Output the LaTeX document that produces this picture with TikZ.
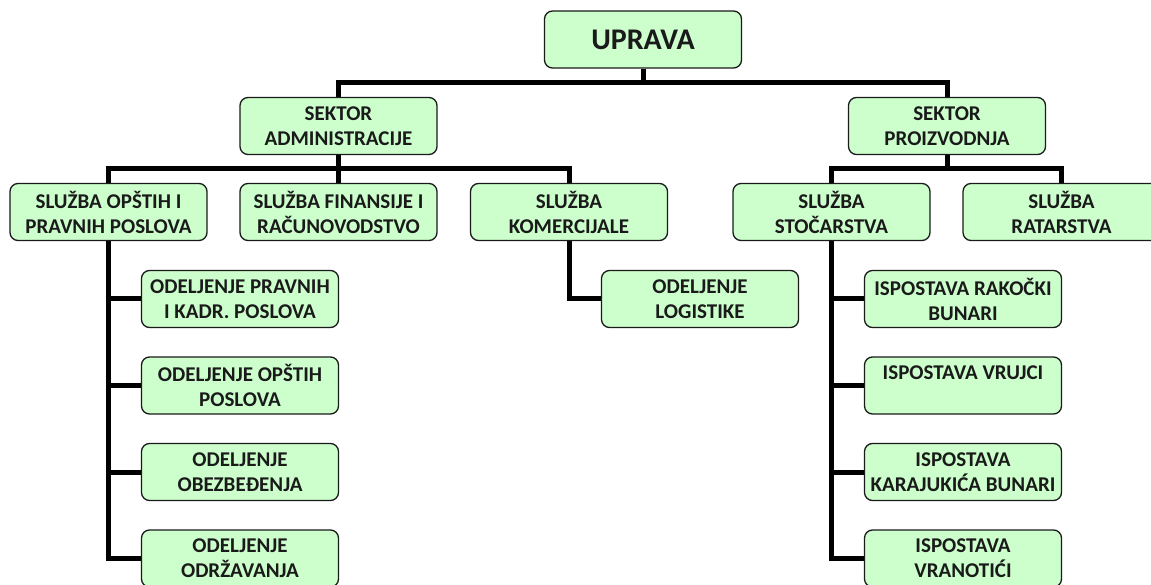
\documentclass[tikz,border=0pt]{standalone}
\usepackage{fontspec}
\setmainfont{Carlito}[BoldFont={Carlito Bold}]
\usetikzlibrary{backgrounds}
\definecolor{boxfill}{HTML}{CCFFCC}
\definecolor{boxline}{HTML}{1A1A1A}
\tikzset{
  orgbox/.style={draw=boxline, line width=1.3pt, fill=boxfill, rounded corners=8pt,
    minimum width=197pt, minimum height=57pt, inner sep=0pt, align=center,
    font=\fontsize{21}{25}\selectfont\bfseries, text=boxline},
  topbox/.style={orgbox, font=\fontsize{30}{34}\selectfont\bfseries},
  conn/.style={draw=black, line width=5pt, line join=miter}
}
\begin{document}
\begin{tikzpicture}[x=1pt,y=-1pt]
\useasboundingbox (0,0) rectangle (1151,585);
\node[topbox] (U) at (643,39.5) {UPRAVA};
\node[orgbox] (SA) at (338.5,126) {SEKTOR\\ADMINISTRACIJE};
\node[orgbox] (SP) at (947,126) {SEKTOR\\PROIZVODNJA};
\node[orgbox] (SO) at (108.5,212) {SLUŽBA OPŠTIH I\\PRAVNIH POSLOVA};
\node[orgbox] (SF) at (338.5,212) {SLUŽBA FINANSIJE I\\RAČUNOVODSTVO};
\node[orgbox] (SK) at (569,212) {SLUŽBA\\KOMERCIJALE};
\node[orgbox] (SS) at (831.5,212) {SLUŽBA\\STOČARSTVA};
\node[orgbox] (SR) at (1061.5,212) {SLUŽBA\\RATARSTVA};
\node[orgbox] (O1) at (240,299) {ODELJENJE PRAVNIH\\I KADR. POSLOVA};
\node[orgbox] (O2) at (240,385.5) {ODELJENJE OPŠTIH\\POSLOVA};
\node[orgbox] (O3) at (240,472) {ODELJENJE\\OBEZBEĐENJA};
\node[orgbox] (O4) at (240,558.5) {ODELJENJE\\ODRŽAVANJA};
\node[orgbox] (OL) at (700,299) {ODELJENJE\\LOGISTIKE};
\node[orgbox] (I1) at (963,299) {ISPOSTAVA RAKOČKI\\BUNARI};
\node[orgbox] (I2) at (963,385.5) {ISPOSTAVA VRUJCI\\\mbox{}};
\node[orgbox] (I3) at (963,472) {ISPOSTAVA\\KARAJUKIĆA BUNARI};
\node[orgbox] (I4) at (963,558.5) {ISPOSTAVA\\VRANOTIĆI};
\begin{scope}[on background layer]
\draw[conn] (U.south) -- (U.south |- 0,83) -| (SA.north);
\draw[conn] (U.south |- 0,83) -| (SP.north);
\draw[conn] (SA.south) -- (SA.south |- 0,169) -| (SO.north);
\draw[conn] (SA.south) -- (SF.north);
\draw[conn] (SA.south |- 0,169) -| (SK.north);
\draw[conn] (SP.south) -- (SP.south |- 0,169) -| (SS.north);
\draw[conn] (SP.south |- 0,169) -| (SR.north);
\draw[conn] (SO.south) |- (O1.west);
\draw[conn] (SO.south) |- (O2.west);
\draw[conn] (SO.south) |- (O3.west);
\draw[conn] (SO.south) |- (O4.west);
\draw[conn] (SK.south) |- (OL.west);
\draw[conn] (SS.south) |- (I1.west);
\draw[conn] (SS.south) |- (I2.west);
\draw[conn] (SS.south) |- (I3.west);
\draw[conn] (SS.south) |- (I4.west);
\end{scope}
\end{tikzpicture}
\end{document}
